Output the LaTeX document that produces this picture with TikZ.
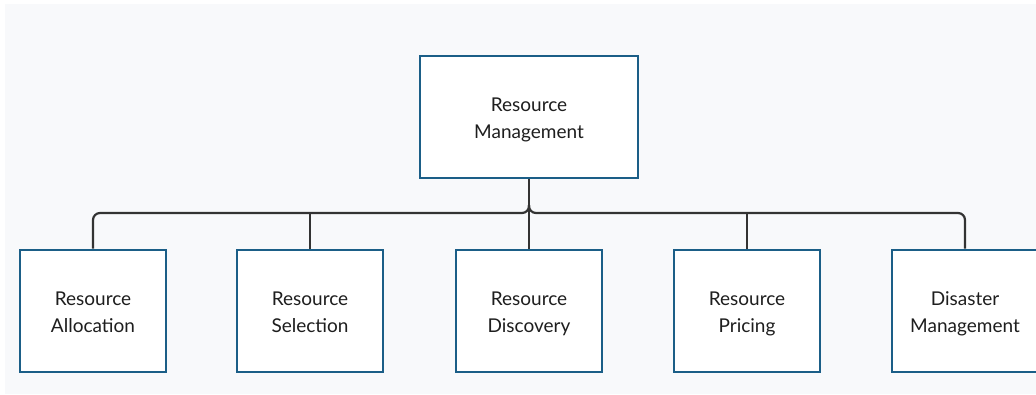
\documentclass[tikz,border=0pt]{standalone}
\usepackage{fontspec}
\setmainfont{Lato}
\definecolor{bordc}{HTML}{1B5E87}
\definecolor{bgc}{HTML}{F8F9FB}
\definecolor{linec}{HTML}{333333}
\definecolor{txtc}{HTML}{1E1E1E}
\newcommand{\twol}[2]{\rule{0pt}{25pt}#1\\\strut #2}
\begin{document}
\begin{tikzpicture}[x=1pt,y=-1pt,
  boxn/.style={draw=bordc,line width=2.8pt,fill=white,minimum width=146pt,minimum height=122pt,
    align=center,font=\fontsize{19}{27}\selectfont,text=txtc,inner sep=0pt},
  conn/.style={draw=linec,line width=2.2pt,rounded corners=7pt}]
\useasboundingbox (0,0) rectangle (1036,394);
\fill[white] (0,0) rectangle (1036,394);
\fill[bgc] (5,4) rectangle (1036,394);
\node[boxn,minimum width=218pt] (top) at (529,117) {\twol{Resource}{Management}};
\node[boxn] (a) at (93,311) {\twol{Resource}{Allocation}};
\node[boxn] (b) at (310,311) {\twol{Resource}{Selection}};
\node[boxn] (c) at (529,311) {\twol{Resource}{Discovery}};
\node[boxn] (d) at (747,311) {\twol{Resource}{Pricing}};
\node[boxn] (e) at (965,311) {\twol{Disaster}{Management}};
\coordinate (j) at (529,213);
\draw[conn] (top.south) -- (c.north);
\draw[conn] (a.north) |- (j) -- ([yshift=8pt]j);
\draw[conn] (e.north) |- (j) -- ([yshift=8pt]j);
\draw[conn] (b.north) -- (b.north |- j);
\draw[conn] (d.north) -- (d.north |- j);
\end{tikzpicture}
\end{document}
